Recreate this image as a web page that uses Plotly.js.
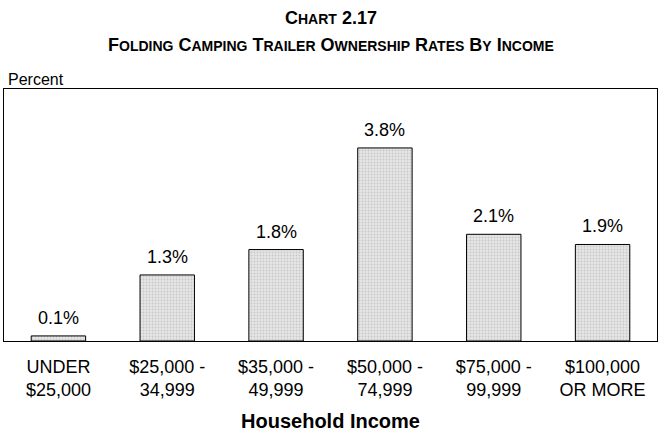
<!DOCTYPE html>
<html><head><meta charset="utf-8">
<script src="https://cdn.plot.ly/plotly-3.0.1.min.js"></script>
<style>body{margin:0;background:#fff}#c{width:661px;height:433px}</style>
</head><body><div id="c"></div>
<script>
const categories = ["UNDER<br>$25,000", "$25,000 -<br>34,999", "$35,000 -<br>49,999", "$50,000 -<br>74,999", "$75,000 -<br>99,999", "$100,000<br>OR MORE"];
const values = [0.1, 1.3, 1.8, 3.8, 2.1, 1.9];
const labels = values.map(v => v.toFixed(1) + "%");

const sc = s => "<span style='font-size:14px'>" + s + "</span>";
const title1 = "C" + sc("HART") + " 2.17";
const title2 = "F" + sc("OLDING") + " C" + sc("AMPING") + " T" + sc("RAILER") + " O" + sc("WNERSHIP") + " R" + sc("ATES") + " B" + sc("Y") + " I" + sc("NCOME");

const FONT = "Liberation Sans, Arial, sans-serif";
const trace = {
  type: "bar", x: categories, y: values,
  cliponaxis: false, width: 0.5,
  marker: {color: "#e0e0e0", line: {color: "#000", width: 1},
    pattern: {shape: ".", fgcolor: "#c8c8c8", bgcolor: "#e6e6e6", size: 3, solidity: 0.3}},
  hoverinfo: "none"
};
const tfont = {family: FONT, size: 18, weight: "bold", color: "#000"};
const valueNotes = categories.map((c, i) => ({
  text: labels[i], x: c, y: values[i], xref: "x", yref: "y", xanchor: "center", yanchor: "middle",
  yshift: 18, showarrow: false, font: {family: FONT, size: 18, color: "#000"}
}));
const layout = {
  width: 661, height: 433, paper_bgcolor: "#fff", plot_bgcolor: "#fff",
  margin: {l: 4, r: 4, t: 89, b: 92},
  showlegend: false, bargap: 0.5,
  font: {family: FONT, color: "#000"},
  xaxis: {showline: true, mirror: true, linecolor: "#000", linewidth: 1, ticks: "", showgrid: false,
    tickfont: {size: 18, color: "#000"}, ticklabelstandoff: 9,
    title: {text: "<b>Household Income</b>", font: {size: 20, color: "#000"}, standoff: 14}},
  yaxis: {range: [0, 4.96], showline: true, mirror: true, linecolor: "#000", linewidth: 1,
    showticklabels: false, ticks: "", showgrid: false, zeroline: false},
  annotations: [
    {text: "Percent", xref: "paper", yref: "paper", x: 0, y: 1, xanchor: "left", yanchor: "bottom",
      xshift: 2, yshift: -1, showarrow: false, font: {size: 16, color: "#000"}},
    {text: title1, xref: "paper", yref: "paper", x: 0.5, y: (341 - 18) / 252, xanchor: "center", yanchor: "middle",
      showarrow: false, font: tfont},
    {text: title2, xref: "paper", yref: "paper", x: 0.5, y: (341 - 45) / 252, xanchor: "center", yanchor: "middle",
      showarrow: false, font: tfont}
  ].concat(valueNotes)
};
Plotly.newPlot("c", [trace], layout, {staticPlot: true});
</script></body></html>
